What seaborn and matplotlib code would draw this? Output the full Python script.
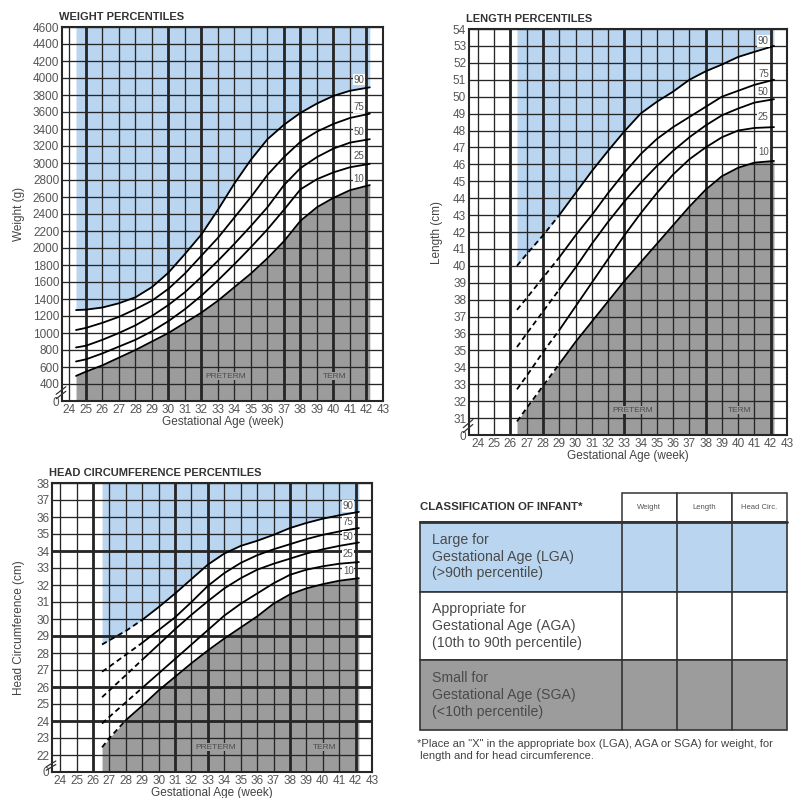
import numpy as np
import pandas as pd
import matplotlib
matplotlib.use("Agg")
import matplotlib.pyplot as plt
import seaborn as sns
from matplotlib.patches import Rectangle

sns.set_theme(style="white")
plt.rcParams['font.family'] = ['Liberation Sans Narrow', 'Liberation Sans', 'DejaVu Sans']

BLUE = "#b9d5ef"
GRAY = "#9c9c9c"
GRID = "#262626"
TXT = "#4a4a4a"

pct_labels = ["90", "75", "50", "25", "10"]
week_ticks = list(range(24, 44))

# weight (g)
wt_weeks = [24.4, 25, 26, 27, 28, 29, 30, 31, 32, 33, 34, 35, 36, 37, 38, 39, 40, 41, 42.2]
wt_p90 = [1270, 1275, 1300, 1350, 1420, 1540, 1710, 1930, 2160, 2450, 2760, 3040, 3280, 3450, 3590, 3700, 3790, 3850, 3890]
wt_p75 = [1035, 1060, 1120, 1190, 1280, 1380, 1520, 1700, 1910, 2120, 2360, 2600, 2860, 3070, 3250, 3370, 3460, 3530, 3580]
wt_p50 = [830, 850, 920, 1000, 1090, 1200, 1330, 1480, 1660, 1850, 2050, 2260, 2480, 2740, 2940, 3070, 3170, 3240, 3280]
wt_p25 = [665, 690, 760, 840, 920, 1020, 1140, 1280, 1440, 1620, 1810, 2010, 2220, 2450, 2690, 2810, 2890, 2950, 2990]
wt_p10 = [495, 545, 620, 710, 800, 900, 1000, 1120, 1240, 1380, 1540, 1700, 1880, 2080, 2320, 2480, 2590, 2680, 2740]

# length (cm)
ln_weeks = [26.4, 27, 28, 29, 30, 31, 32, 33, 34, 35, 36, 37, 38, 39, 40, 41, 42.2]
ln_p90 = [40.0, 40.7, 41.8, 43.0, 44.3, 45.6, 46.8, 47.95, 49.0, 49.7, 50.3, 51.0, 51.5, 51.9, 52.35, 52.65, 53.0]
ln_p75 = [37.4, 38.1, 39.3, 40.5, 41.8, 43.0, 44.3, 45.5, 46.6, 47.5, 48.2, 48.8, 49.4, 50.0, 50.35, 50.7, 51.0]
ln_p50 = [35.2, 36.0, 37.3, 38.6, 39.9, 41.3, 42.6, 43.8, 44.9, 45.9, 46.8, 47.6, 48.3, 48.9, 49.3, 49.65, 49.85]
ln_p25 = [32.7, 33.5, 34.9, 36.2, 37.6, 39.0, 40.4, 41.8, 43.1, 44.3, 45.4, 46.3, 47.0, 47.6, 48.0, 48.15, 48.2]
ln_p10 = [30.8, 31.6, 32.9, 34.2, 35.5, 36.7, 37.9, 39.1, 40.2, 41.3, 42.4, 43.5, 44.5, 45.3, 45.8, 46.1, 46.2]

# head circumference (cm)
hc_weeks = [26.55, 27, 28, 29, 30, 31, 32, 33, 34, 35, 36, 37, 38, 39, 40, 41, 42.2]
hc_p90 = [28.5, 28.75, 29.3, 29.95, 30.7, 31.5, 32.35, 33.2, 33.85, 34.3, 34.6, 34.95, 35.35, 35.65, 35.9, 36.1, 36.3]
hc_p75 = [26.9, 27.2, 27.9, 28.6, 29.35, 30.1, 31.0, 31.95, 32.7, 33.3, 33.75, 34.1, 34.4, 34.7, 34.95, 35.15, 35.35]
hc_p50 = [25.4, 25.8, 26.7, 27.6, 28.5, 29.4, 30.25, 31.05, 31.8, 32.4, 32.9, 33.25, 33.55, 33.85, 34.1, 34.3, 34.5]
hc_p25 = [23.85, 24.25, 25.1, 25.95, 26.8, 27.65, 28.5, 29.35, 30.2, 30.9, 31.5, 32.1, 32.6, 32.9, 33.1, 33.25, 33.35]
hc_p10 = [22.45, 23.0, 24.05, 24.9, 25.8, 26.6, 27.4, 28.15, 28.85, 29.5, 30.15, 30.9, 31.45, 31.8, 32.05, 32.25, 32.4]

# table
tbl_title = "CLASSIFICATION OF INFANT*"
tbl_cols = ["Weight", "Length", "Head Circ."]
tbl_rows = ["Large for\nGestational Age (LGA)\n(>90th percentile)",
            "Appropriate for\nGestational Age (AGA)\n(10th to 90th percentile)",
            "Small for\nGestational Age (SGA)\n(<10th percentile)"]
tbl_note = '*Place an "X" in the appropriate box (LGA), AGA or SGA) for weight, for\n length and for head circumference.'


def draw_chart(ax, weeks, curves, dash_idx, ylo, yhi, ystep, xlo,
               thick_x, thick_y, title, ylabel, ylab_x, lab_off):
    ax.set_xlim(xlo, 43)
    ax.set_ylim(ylo, yhi)
    ax.fill_between(weeks, curves[0], yhi, color=BLUE, lw=0, zorder=1)
    ax.fill_between(weeks, ylo, curves[-1], color=GRAY, lw=0, zorder=1)

    yt = np.arange(ylo, yhi + ystep / 2, ystep)
    ax.set_xticks(week_ticks)
    ax.set_xticklabels([str(w) for w in week_ticks])
    ax.set_yticks(yt)
    ax.set_yticklabels(["0"] + [f"{v:g}" for v in yt[1:]])
    ax.grid(True, color=GRID, lw=0.95)
    ax.set_axisbelow(False)
    for x in thick_x:
        ax.axvline(x, color=GRID, lw=2.0, zorder=2.6)
    for y in thick_y:
        ax.axhline(y, color=GRID, lw=2.0, zorder=2.6)

    for vals, lab, d in zip(curves, pct_labels, dash_idx):
        if d > 0:
            sns.lineplot(x=weeks[:d + 1], y=vals[:d + 1], ax=ax, color="black",
                         lw=1.3, linestyle=(0, (3, 2)), estimator=None, zorder=3)
        sns.lineplot(x=weeks[d:], y=vals[d:], ax=ax, color="black",
                     lw=1.3, estimator=None, zorder=3)
        ax.text(41.55, vals[-2] + lab_off * ystep, lab, fontsize=7, color="#555",
                ha="center", va="center", zorder=4,
                bbox=dict(boxstyle="square,pad=0.08", fc="white", ec="none"))

    pre_y = ylo + 1.47 * ystep
    for x, t in [(33.5, "PRETERM"), (40.1, "TERM")]:
        ax.text(x, pre_y, t, fontsize=6, color="#4d4d4d", ha="center", va="center",
                zorder=4, bbox=dict(boxstyle="square,pad=0.05", fc=GRAY, ec="none"))

    for s in ax.spines.values():
        s.set_color(GRID)
        s.set_linewidth(1.5)
    ax.tick_params(length=0, pad=2, labelsize=8.5, labelcolor="#555")

    # axis break mark
    for dy in (0.0, 0.012):
        ax.plot([-0.018, 0.012], [0.006 + dy, 0.026 + dy], transform=ax.transAxes,
                color="#333", lw=0.9, clip_on=False, zorder=5)

    ax.annotate(title, xy=(0, 1), xycoords="axes fraction", xytext=(-2, 7.5),
                textcoords="offset points", ha="left", va="center",
                fontsize=8, weight="bold", color="#333")
    ax.set_xlabel("Gestational Age (week)", fontsize=8.5, color="#444", labelpad=0.5)
    ax.set_ylabel(ylabel, fontsize=8.5, color="#444")
    ax.yaxis.set_label_coords(ylab_x, 0.5)


fig = plt.figure(figsize=(7.96, 7.98), dpi=100)
W, H = 796, 798


def px_axes(left, top, right, bottom):
    return fig.add_axes([left / W, (H - bottom) / H, (right - left) / W, (bottom - top) / H])


ax_w = px_axes(62, 27, 383, 401)
draw_chart(ax_w, wt_weeks, [wt_p90, wt_p75, wt_p50, wt_p25, wt_p10], [0, 0, 0, 0, 0],
           200, 4600, 200, 23.55, [25, 30, 32, 37, 38, 40, 42], [],
           "WEIGHT PERCENTILES", "Weight (g)", -0.115, 0.65)

ax_l = px_axes(469, 29, 787, 435)
draw_chart(ax_l, ln_weeks, [ln_p90, ln_p75, ln_p50, ln_p25, ln_p10], [3, 3, 3, 3, 3],
           30, 54, 1, 23.45, [26, 28, 33, 38, 42], [],
           "LENGTH PERCENTILES", "Length (cm)", -0.082, 0.65)

ax_h = px_axes(52, 483, 372, 772)
draw_chart(ax_h, hc_weeks, [hc_p90, hc_p75, hc_p50, hc_p25, hc_p10], [3, 3, 3, 3, 2],
           21, 38, 1, 23.5, [26, 31, 33, 38, 42], [24, 26, 29, 34],
           "HEAD CIRCUMFERENCE PERCENTILES", "Head Circumference (cm)", -0.084, 0.55)

# classification table (pixel coordinates)
tax = fig.add_axes([0, 0, 1, 1])
tax.set_xlim(0, W)
tax.set_ylim(H, 0)
tax.axis("off")

x0, x1 = 420, 786.7
col_x = [621.7, 676.7, 731.7, 786.7]
head_top, head_bot = 493.3, 521.7
row_y = [521.7, 591.7, 660, 730]
row_fc = [BLUE, "white", GRAY]
edge = "#333"

tax.text(x0, (head_top + head_bot) / 2, tbl_title, fontsize=8.2, weight="bold",
         color="#333", ha="left", va="center")
for i, lab in enumerate(tbl_cols):
    tax.add_patch(Rectangle((col_x[i], head_top), col_x[i + 1] - col_x[i], head_bot - head_top,
                            fc="white", ec=edge, lw=1.1))
    tax.text((col_x[i] + col_x[i + 1]) / 2, (head_top + head_bot) / 2, lab,
             fontsize=5.5, color="#555", ha="center", va="center")
for i, lab in enumerate(tbl_rows):
    tax.add_patch(Rectangle((x0, row_y[i]), x1 - x0, row_y[i + 1] - row_y[i],
                            fc=row_fc[i], ec=edge, lw=1.2))
    for cx in col_x[:-1]:
        tax.plot([cx, cx], [row_y[i], row_y[i + 1]], color=edge, lw=1.2)
    tax.text(431.7, (row_y[i] + row_y[i + 1]) / 2, lab, fontsize=10.2, color=TXT,
             ha="left", va="center", linespacing=1.25)
tax.plot([x0, x1], [head_bot, head_bot], color=edge, lw=2.0)
tax.text(417, 739, tbl_note, fontsize=8.1, color="#444", ha="left", va="top",
         linespacing=1.3)

fig.savefig("out.png", dpi=100)
